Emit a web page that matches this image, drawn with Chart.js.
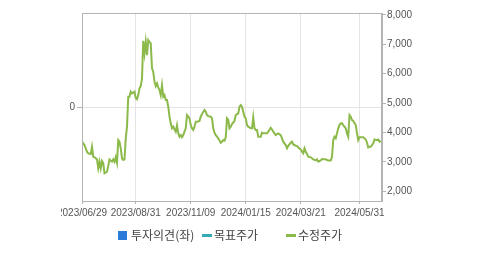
<!DOCTYPE html>
<html>
<head>
<meta charset="utf-8">
<script src="https://cdn.jsdelivr.net/npm/chart.js@4/dist/chart.umd.min.js"></script>
<style>
  html, body { margin: 0; padding: 0; background: #fff; }
  body { width: 479px; height: 255px; position: relative; overflow: hidden; }
  #wrap { position: absolute; left: 61px; top: 0; width: 418px; height: 255px; }
  .lg { position: absolute; top: 227px; height: 16px; font-family: "Noto Sans CJK KR", sans-serif; font-size: 12px; color: #444; line-height: 16px; white-space: nowrap; }
  .sw { position: absolute; }
</style>
</head>
<body>
<div id="wrap"><canvas id="c"></canvas></div>
<div id="legend"></div>
<script>
// Trading-day index (0 = 2023/06/29) and adjusted price (수정주가)
const dayIdx = [0,2,4,5,7,8,9,10,12,13,14,15,16,17,18,20,21,22,24,25,26,27,28,29,30,31,32,33,34,35,36,37,38,39,40,42,43,44,45,46,47,48,49,50,51,52,53,54,55,56,57,58,59,60,61,62,63,64,65,66,67,68,69,70,71,72,73,75,76,77,78,79,80,81,83,84,85,86,87,88,89,90,91,92,94,95,96,98,99,100,101,103,104,105,106,107,108,109,111,112,113,114,115,116,117,118,119,120,122,123,125,126,127,128,129,130,131,132,133,135,136,137,138,139,140,141,143,144,145,148,149,151,152,153,155,156,157,159,160,161,163,164,165,167,168,169,171,172,173,175,176,177,178,179,180,181,183,184,185,187,188,189,191,192,193,195,196,197,199,200,201,202,203,204,205,206,207,208,209,211,212,213,214,215,216,217,219,220,221,222,223,224,225,227,228,229,230,231,232,233,234,236,237,238,239];
const price = [3685,3570,3345,3290,3270,3515,3175,3155,3085,2780,3005,2780,3030,2950,2610,2665,2860,3085,3005,3085,3005,3155,2970,3740,3685,3460,3120,3065,3085,3800,4195,5215,5215,5385,5330,5385,5160,5125,5270,5500,5575,5840,7115,6690,7080,6630,7140,7080,7030,6180,6065,5725,5575,5670,5535,5440,5270,5610,5215,5270,5100,5100,4875,4535,4310,4140,4195,4025,4250,3970,3855,3910,3835,3910,4140,4590,4535,4480,4250,4140,4085,4195,4365,4365,4390,4535,4625,4760,4705,4590,4555,4535,4480,4140,3990,3910,3855,3800,3650,3685,3740,3720,3835,4480,4425,4140,4195,4285,4390,4590,4650,4875,4930,4875,4705,4535,4480,4250,4195,4140,4140,4515,4140,4085,4085,3855,3855,3990,3970,3970,4025,4160,4100,4025,3910,3945,3970,3910,3800,3685,3570,3460,3545,3650,3685,3590,3550,3545,3490,3425,3345,3290,3460,3345,3270,3175,3155,3120,3085,3050,3085,3005,3050,3100,3085,3085,3065,3050,3050,3175,3740,3855,3800,3970,4140,4250,4310,4310,4250,4140,3970,3855,4590,4535,4420,4390,4250,3970,3740,3835,3835,3835,3835,3760,3650,3490,3515,3515,3570,3630,3760,3740,3760,3685,3720];
const xTickIdx = [0,43,87,131,175,222];
const xTickLabels = ['2023/06/29','2023/08/31','2023/11/09','2024/01/15','2024/03/21','2024/05/31'];
const rightTicks = [2000,3000,4000,5000,6000,7000,8000];
const leftTicks = [0];
const legendNames = ['투자의견(좌)','목표주가','수정주가'];
const legendColors = ['#2b7bd9','#36a9b7','#8cba4a'];

// HTML legend
(function(){
  const lg = document.getElementById('legend');
  const starts = [118, 202, 286];
  legendNames.forEach((n,i)=>{
    const sw = document.createElement('div');
    sw.className = 'sw';
    if (i === 0) {
      Object.assign(sw.style,{left:starts[i]+'px',top:'231px',width:'9px',height:'9px',background:legendColors[i]});
    } else {
      Object.assign(sw.style,{left:starts[i]+'px',top:'234px',width:'10px',height:'3px',background:legendColors[i]});
    }
    lg.appendChild(sw);
    const t = document.createElement('div');
    t.className = 'lg';
    t.textContent = n;
    t.style.left = (starts[i] + (i===0?13:12)) + 'px';
    lg.appendChild(t);
  });
})();

const borderPlugin = {
  id: 'plotBorder',
  afterDraw(chart){
    const a = chart.chartArea, ctx = chart.ctx;
    ctx.save();
    ctx.strokeStyle = '#b4b4b4';
    ctx.lineWidth = 1;
    ctx.strokeRect(Math.round(a.left)+0.5, Math.round(a.top)+0.5, Math.round(a.right-a.left)-1, Math.round(a.bottom-a.top));
    ctx.restore();
  }
};

const tickFont = { family: '"Liberation Sans", Arial, sans-serif', size: 10 };

new Chart(document.getElementById('c'), {
  type: 'line',
  data: {
    datasets: [{
      label: legendNames[2],
      data: dayIdx.map((d,i)=>({x:d, y:price[i]})),
      borderColor: legendColors[2],
      borderWidth: 2,
      pointRadius: 0,
      tension: 0,
      yAxisID: 'y2'
    }]
  },
  options: {
    responsive: true,
    maintainAspectRatio: false,
    animation: false,
    devicePixelRatio: 1,
    layout: { padding: { top: 13, left: 0, right: 0, bottom: 0 } },
    plugins: { legend: { display: false }, tooltip: { enabled: false } },
    scales: {
      x: {
        type: 'linear', min: 0, max: 240,
        afterBuildTicks(s){ s.ticks = xTickIdx.map(v=>({value:v})); },
        afterFit(s){ s.height = 54; s.paddingLeft = 0; s.paddingRight = 0; },
        ticks: { autoSkip:false, maxRotation:0, minRotation:0, padding: 3, color:'#555', font: tickFont,
          callback(v){ const k = xTickIdx.indexOf(v); return k>=0 ? xTickLabels[k] : ''; } },
        grid: { color:'#e4e4e4', tickColor:'#b4b4b4', tickLength:3, lineWidth:1 },
        border: { display:true, color:'#b4b4b4' }
      },
      y: {
        position: 'left', min: -1, max: 1,
        afterBuildTicks(s){ s.ticks = leftTicks.map(v=>({value:v})); },
        afterFit(s){ s.width = 21; s.paddingTop = 0; s.paddingBottom = 0; },
        ticks: { padding: 2, color:'#555', font: tickFont, callback(v){ return String(v); } },
        grid: { color:'#e4e4e4', tickColor:'#b4b4b4', tickLength:5 },
        border: { display:true, color:'#b4b4b4' }
      },
      y2: {
        position: 'right', min: 1670, max: 8060,
        afterBuildTicks(s){ s.ticks = rightTicks.map(v=>({value:v})); },
        afterFit(s){ s.width = 97; s.paddingTop = 0; s.paddingBottom = 0; },
        ticks: { padding: 1, color:'#555', font: tickFont, callback(v){ return v.toLocaleString('en-US'); } },
        grid: { drawOnChartArea:false, tickColor:'#b4b4b4', tickLength:4 },
        border: { display:true, color:'#b4b4b4' }
      }
    }
  },
  plugins: [borderPlugin]
});
</script>
</body>
</html>
